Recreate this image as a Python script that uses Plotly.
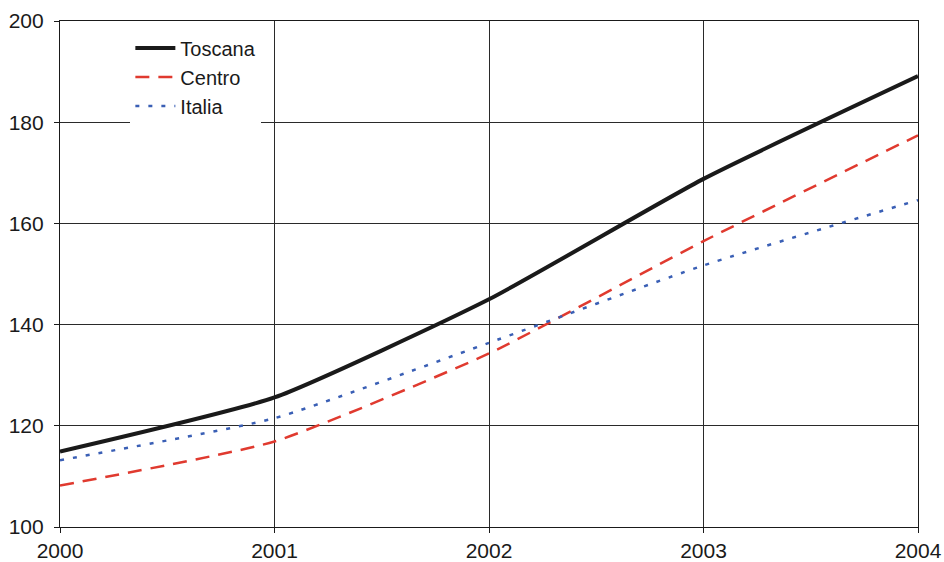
import plotly.graph_objects as go

years = [2000, 2001, 2002, 2003, 2004]
toscana = [114.9, 125.6, 145.0, 168.8, 189.1]
centro = [108.2, 116.9, 134.3, 156.5, 177.4]
italia = [113.2, 121.5, 136.4, 151.7, 164.6]

series = [
    ("Toscana", toscana, dict(color="#1a1a1a", width=4, dash="solid")),
    ("Centro", centro, dict(color="#e03a2f", width=2.5, dash="14px,9px")),
    ("Italia", italia, dict(color="#3a5fb5", width=2.5, dash="4px,9px")),
]

fig = go.Figure()
for name, vals, line in series:
    fig.add_trace(go.Scatter(
        x=years, y=vals, name=name, mode="lines",
        line=dict(shape="spline", smoothing=0.5, **line),
    ))

font_family = "Liberation Sans, Arial, sans-serif"

axis_common = dict(
    showline=True, linecolor="#1a1a1a", linewidth=1.2, mirror=True,
    showgrid=True, gridcolor="#2a2a2a", gridwidth=1.2,
    zeroline=False, ticks="outside", ticklen=5, tickcolor="#1a1a1a",
    tickfont=dict(family=font_family, size=21, color="#1a1a1a"),
    automargin=False,
)

fig.update_xaxes(range=[2000, 2004], tickvals=years, ticktext=[str(y) for y in years], **axis_common)
fig.update_yaxes(range=[100, 200], tickvals=[100, 120, 140, 160, 180, 200],
                 ticklabelstandoff=6, **axis_common)

fig.update_layout(
    width=944, height=562,
    margin=dict(l=60, r=26, t=21, b=35),
    paper_bgcolor="white", plot_bgcolor="white",
    showlegend=True,
    legend=dict(
        x=0.082, y=0.985, xanchor="left", yanchor="top",
        bgcolor="white", borderwidth=0,
        font=dict(family=font_family, size=20, color="#1a1a1a"),
        tracegroupgap=0, itemwidth=40,
    ),
)

fig.write_html("out.html")
